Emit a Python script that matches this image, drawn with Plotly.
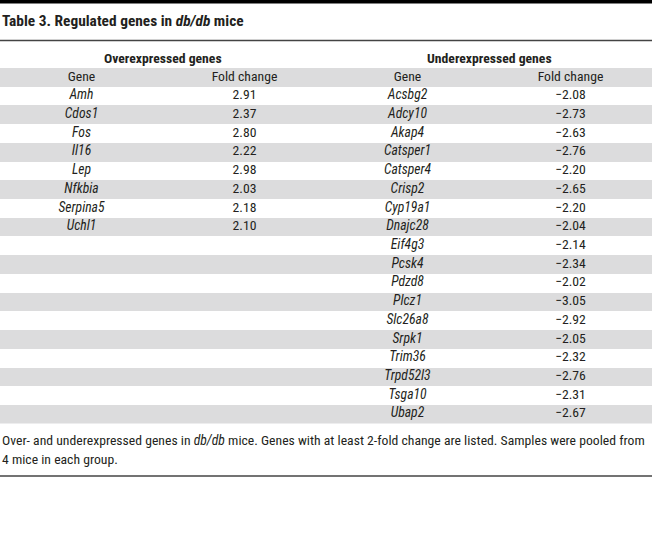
import plotly.graph_objects as go

W, H = 652, 540

over_genes = ["Amh", "Cdos1", "Fos", "Il16", "Lep", "Nfkbia", "Serpina5", "Uchl1"]
over_fold = ["2.91", "2.37", "2.80", "2.22", "2.98", "2.03", "2.18", "2.10"]
under_genes = ["Acsbg2", "Adcy10", "Akap4", "Catsper1", "Catsper4", "Crisp2", "Cyp19a1",
               "Dnajc28", "Eif4g3", "Pcsk4", "Pdzd8", "Plcz1", "Slc26a8", "Srpk1",
               "Trim36", "Trpd52l3", "Tsga10", "Ubap2"]
under_fold = ["−2.08", "−2.73", "−2.63", "−2.76", "−2.20", "−2.65", "−2.20", "−2.04",
              "−2.14", "−2.34", "−2.02", "−3.05", "−2.92", "−2.05", "−2.32", "−2.76",
              "−2.31", "−2.67"]
col_headers = ["Gene", "Fold change", "Gene", "Fold change"]
group_headers = ["Overexpressed genes", "Underexpressed genes"]
title = "Table 3. Regulated genes in <i>db/db</i> mice"
footnote = ["Over- and underexpressed genes in <i>db/db</i> mice. Genes with at least 2-fold change are listed. Samples were pooled from",
            "4 mice in each group."]

FONT = "Liberation Sans Narrow, Roboto Condensed, sans-serif"
FS = 13.7
GRAY = "#dcdcdd"
TXT = "#231f20"

n_rows = len(under_genes) + 1  # header + data rows
row_h = 18.72
top_px = 67.7
bot_px = top_px + row_h * n_rows


def py(p):
    return 1 - p / H


fig = go.Figure()

# shaded rows (header row 0, then every even data row index)
gray_rows = [r for r in range(n_rows) if r % 2 == 0]
fig.add_trace(go.Bar(y=gray_rows, x=[len(col_headers)] * len(gray_rows), base=0,
                     orientation="h", width=1, marker=dict(color=GRAY, line_width=0),
                     hoverinfo="skip", showlegend=False))

# header row
fig.add_trace(go.Scatter(x=[i + 0.5 for i in range(len(col_headers))], y=[0] * len(col_headers),
                         text=col_headers, mode="text", textposition="middle center",
                         textfont=dict(family=FONT, size=FS, color=TXT),
                         hoverinfo="skip", showlegend=False))

# cell columns
columns = [
    ["<i>%s</i>" % g for g in over_genes],
    over_fold,
    ["<i>%s</i>" % g for g in under_genes],
    under_fold,
]
for ci, col in enumerate(columns):
    fig.add_trace(go.Scatter(x=[ci + 0.5] * len(col), y=list(range(1, len(col) + 1)),
                             text=col, mode="text", textposition="middle center",
                             textfont=dict(family=FONT, size=FS, color=TXT),
                             hoverinfo="skip", showlegend=False))

fig.update_xaxes(range=[0, len(col_headers)], visible=False, fixedrange=True, domain=[0, 1])
fig.update_yaxes(range=[n_rows - 0.5, -0.5], visible=False, fixedrange=True,
                 domain=[py(bot_px), py(top_px)])

# top black bar and rules
fig.add_shape(type="rect", xref="paper", yref="paper", x0=0, x1=1, y0=py(3.5), y1=1,
              fillcolor="black", line_width=0)
fig.add_shape(type="line", xref="paper", yref="paper", x0=0, x1=1, y0=py(40.5), y1=py(40.5),
              line=dict(color="#444", width=1.3))
fig.add_shape(type="line", xref="paper", yref="paper", x0=0, x1=1, y0=py(476), y1=py(476),
              line=dict(color="#444", width=1.3))

fig.add_annotation(text="<b>%s</b>" % title, x=0, y=py(21), xref="paper", yref="paper",
                   xanchor="left", yanchor="middle", showarrow=False,
                   font=dict(family=FONT, size=15.4, color=TXT))
for i, g in enumerate(group_headers):
    fig.add_annotation(text="<b>%s</b>" % g, x=0.25 + 0.5 * i, y=py(57.5), xref="paper", yref="paper",
                       xanchor="center", yanchor="middle", showarrow=False,
                       font=dict(family=FONT, size=FS, color=TXT))
for i, line in enumerate(footnote):
    fig.add_annotation(text=line, x=0, y=py(440 + 18.5 * i), xref="paper", yref="paper",
                       xanchor="left", yanchor="middle", showarrow=False,
                       font=dict(family=FONT, size=FS, color=TXT))

fig.update_layout(width=W, height=H, margin=dict(l=0, r=0, t=0, b=0, pad=0),
                  paper_bgcolor="white", plot_bgcolor="white", bargap=0)
fig.write_html("out.html", post_script="document.body.style.margin='0';",
               config={"displayModeBar": False})
